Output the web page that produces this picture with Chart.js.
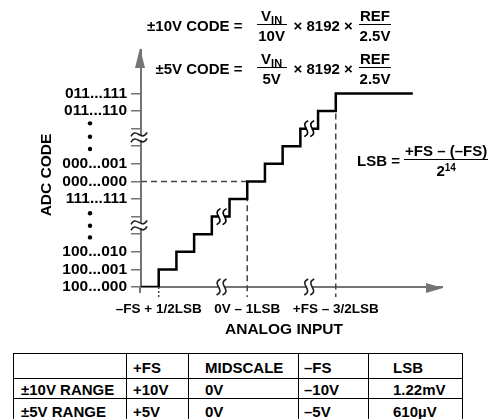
<!DOCTYPE html>
<html>
<head>
<meta charset="utf-8">
<script src="https://cdn.jsdelivr.net/npm/chart.js@4.4.0/dist/chart.umd.min.js"></script>
<style>
  body { margin: 0; width: 495px; height: 419px; overflow: hidden; position: relative; background: #fff;
         font-family: "Liberation Sans", Arial, Helvetica, sans-serif; font-weight: bold; color: #000; }
  #myChart { position: absolute; left: 0; top: 0; }
  .formula { position: absolute; display: flex; align-items: center; font-size: 15px; white-space: pre; line-height: 1; }
  .frac { display: inline-flex; flex-direction: column; align-items: center; min-width: 30px; }
  .frac .num { border-bottom: 1.5px solid #000; padding: 0 1px 1px; align-self: stretch; text-align: center; }
  .frac .den { padding-top: 3px; }
  .frac sub { font-size: 11px; line-height: 0; vertical-align: -3px; }
  sup { font-size: 10px; line-height: 0; vertical-align: 5px; }
  #tabla { position: absolute; left: 13px; top: 353px; border-collapse: collapse; table-layout: fixed; font-size: 15px; }
  #tabla td { border: 1.5px solid #000; padding: 2px 0 0 6px; white-space: nowrap; overflow: hidden; line-height: 1; box-sizing: border-box; }
</style>
</head>
<body>
<canvas id="myChart" width="495" height="345"></canvas>

<div class="formula" style="right:104px; top:8px;">±10V CODE = <span class="frac" style="margin:0 7px 0 10px"><span class="num">V<sub>IN</sub></span><span class="den">10V</span></span>× 8192 × <span class="frac" style="margin-left:2px"><span class="num">REF</span><span class="den">2.5V</span></span></div>
<div class="formula" style="right:104px; top:51px;">±5V CODE = <span class="frac" style="margin:0 7px 0 10px"><span class="num">V<sub>IN</sub></span><span class="den">5V</span></span>× 8192 × <span class="frac" style="margin-left:2px"><span class="num">REF</span><span class="den">2.5V</span></span></div>
<div class="formula" style="left:357px; top:143px;">LSB = <span class="frac"><span class="num">+FS – (–FS)</span><span class="den">2<sup>14</sup></span></span></div>

<table id="tabla">
  <colgroup><col style="width:113px"><col style="width:62px"><col style="width:110px"><col style="width:70px"><col style="width:94px"></colgroup>
</table>

<script>
const chart = document.querySelector("#myChart");
const tabla = document.querySelector("#tabla");

// codigos ADC (eje y) en pasos de 1 LSB
const codeLevels = [0, 1, 2, 3, 4, 5, 6, 7, 8, 9, 10, 11];
const codeLabels = ["100...000", "100...001", "100...010", "", "", "111...111",
                    "000...000", "000...001", "", "", "011...110", "011...111"];

// escalera: entrada analogica (en LSB desde -FS) vs codigo
const stepInputs = [0, 1, 2, 3, 4, 5, 6, 7, 8, 9, 10, 11, 15.35];
const stepCodes = [0, 1, 2, 3, 4, 5, 6, 7, 8, 9, 10, 11, 11];

// ticks del eje x
const inputTicks = [1, 6, 11];
const inputLabels = ["–FS + 1/2LSB", "0V – 1LSB", "+FS – 3/2LSB"];

// cortes de eje y puntos suspensivos
const codeBreaks = [3.5, 8.5];
const inputBreaks = [4.55, 9.5];
const stepBreaks = [4, 9];
const dotLevels = [9.3, 8.54, 7.84, 4.19, 3.48, 2.82];

// tabla
const tableHead = ["", "+FS", "MIDSCALE", "–FS", "LSB"];
const rangeNames = ["±10V RANGE", "±5V RANGE"];
const plusFS = ["+10V", "+5V"];
const midscale = ["0V", "0V"];
const minusFS = ["–10V", "–5V"];
const lsbSize = ["1.22mV", "610µV"];

const GRAY = "#747474";
const FONT = '"Liberation Sans", Arial, Helvetica, sans-serif';
const padLeft = [7, 6, 16, 5, 24];
const rowHeights = [25, 20, 24];
const padTop = [3, 1, 1];

const crearFila = (celdas, fila) => {
  const tr = document.createElement("tr");
  celdas.forEach((texto, i) => {
    const td = document.createElement("td");
    td.textContent = texto;
    td.style.paddingLeft = padLeft[i] + "px";
    td.style.paddingTop = padTop[fila] + "px";
    td.style.height = rowHeights[fila] + "px";
    tr.appendChild(td);
  });
  tabla.appendChild(tr);
};
crearFila(tableHead, 0);
rangeNames.forEach((r, i) => crearFila([r, plusFS[i], midscale[i], minusFS[i], lsbSize[i]], i + 1));

// dos trazos ondulados sobre una linea, borrando la linea entre ellos
const squiggle = (ctx, cx, cy, vertical, color) => {
  ctx.save();
  ctx.fillStyle = "#fff";
  if (vertical) ctx.fillRect(cx - 2.5, cy - 3, 5, 6);
  else ctx.fillRect(cx - 3, cy - 2.5, 6, 5);
  ctx.strokeStyle = color;
  ctx.lineWidth = 1.6;
  [-3, 3].forEach((d) => {
    ctx.beginPath();
    if (vertical) {
      const x = cx + d;
      ctx.moveTo(x + 2, cy - 8);
      ctx.bezierCurveTo(x - 8, cy - 3, x + 8, cy + 3, x - 2, cy + 8);
    } else {
      const y = cy + d;
      ctx.moveTo(cx - 8, y + 2);
      ctx.bezierCurveTo(cx - 3, y - 8, cx + 3, y + 8, cx + 8, y - 2);
    }
    ctx.stroke();
  });
  ctx.restore();
};

const extras = {
  id: "extras",
  afterDatasetsDraw(c) {
    const { ctx, scales: { x, y } } = c;
    const x0 = x.getPixelForValue(0);
    const y0 = y.getPixelForValue(0);
    const xEnd = x.getPixelForValue(x.max);
    const yEnd = y.getPixelForValue(y.max);
    ctx.save();
    // eje y un poco bajo el origen
    ctx.strokeStyle = GRAY;
    ctx.lineWidth = 2;
    ctx.beginPath();
    ctx.moveTo(x0 - 1, y0);
    ctx.lineTo(x0 - 1, y0 + 6);
    ctx.stroke();
    // flechas
    ctx.fillStyle = GRAY;
    ctx.beginPath();
    ctx.moveTo(x0 - 1, yEnd - 2);
    ctx.lineTo(x0 - 6, yEnd + 18);
    ctx.lineTo(x0 + 4, yEnd + 18);
    ctx.closePath();
    ctx.fill();
    ctx.beginPath();
    ctx.moveTo(xEnd + 1, y0 + 1);
    ctx.lineTo(xEnd - 16, y0 - 4);
    ctx.lineTo(xEnd - 16, y0 + 6);
    ctx.closePath();
    ctx.fill();
    // cortes
    codeBreaks.forEach((v) => squiggle(ctx, x0 - 2, y.getPixelForValue(v), false, "#222"));
    inputBreaks.forEach((v) => squiggle(ctx, x.getPixelForValue(v), y0, true, "#222"));
    inputBreaks.forEach((v, i) => squiggle(ctx, x.getPixelForValue(v), y.getPixelForValue(stepBreaks[i]), true, "#000"));
    // puntos
    ctx.fillStyle = "#000";
    dotLevels.forEach((v) => {
      ctx.beginPath();
      ctx.arc(90, y.getPixelForValue(v), 2.2, 0, Math.PI * 2);
      ctx.fill();
    });
    // titulos de ejes
    ctx.font = "bold 15.5px " + FONT;
    ctx.textAlign = "center";
    ctx.textBaseline = "middle";
    ctx.fillText("ANALOG INPUT", 284, 330);
    ctx.translate(47, 175);
    ctx.rotate(-Math.PI / 2);
    ctx.fillText("ADC CODE", 0, 0);
    ctx.restore();
  },
};

const datasets = [
  {
    data: stepInputs.map((v, i) => ({ x: v, y: stepCodes[i] })),
    borderColor: "#000",
    borderWidth: 2.5,
    stepped: true,
    pointRadius: 0,
  },
  {
    data: [{ x: 0, y: stepCodes[6] }, { x: stepInputs[6], y: stepCodes[6] }, { x: stepInputs[6], y: -0.57 }],
    borderColor: "#444",
    borderWidth: 1.5,
    borderDash: [6, 4],
    pointRadius: 0,
    clip: false,
  },
  {
    data: [{ x: stepInputs[11], y: stepCodes[11] }, { x: stepInputs[11], y: -0.57 }],
    borderColor: "#444",
    borderWidth: 1.5,
    borderDash: [6, 4],
    pointRadius: 0,
    clip: false,
  },
  {
    data: [{ x: stepInputs[1], y: 0 }, { x: stepInputs[1], y: -0.57 }],
    borderColor: "#444",
    borderWidth: 1.5,
    borderDash: [2, 2],
    pointRadius: 0,
    clip: false,
  },
];

const config = {
  type: "line",
  data: { datasets },
  options: {
    responsive: false,
    animation: false,
    devicePixelRatio: 1,
    events: [],
    layout: { padding: { top: 50, right: 53, left: 30, bottom: 0 } },
    plugins: { legend: { display: false }, tooltip: { enabled: false } },
    scales: {
      x: {
        type: "linear",
        min: 0,
        max: 17,
        afterFit: (s) => { s.height = 58; },
        afterBuildTicks: (s) => { s.ticks = inputTicks.map((v) => ({ value: v })); },
        grid: { display: true, drawOnChartArea: false, color: "rgba(0,0,0,0)", tickLength: 10 },
        border: { display: true, color: GRAY, width: 2 },
        ticks: {
          autoSkip: false,
          maxRotation: 0,
          padding: 4,
          color: "#000",
          font: { family: FONT, size: 13.5, weight: "bold" },
          callback: (v) => inputLabels[inputTicks.indexOf(v)],
        },
      },
      y: {
        type: "linear",
        min: 0,
        max: 13.47,
        afterFit: (s) => { s.width = 111; },
        afterBuildTicks: (s) => { s.ticks = codeLevels.map((v) => ({ value: v })); },
        grid: { display: true, drawOnChartArea: false, color: GRAY, lineWidth: 1.5, tickLength: 10 },
        border: { display: true, color: GRAY, width: 2 },
        ticks: {
          autoSkip: false,
          padding: 4,
          color: "#000",
          font: { family: FONT, size: 15.5, weight: "bold" },
          callback: (v) => codeLabels[codeLevels.indexOf(v)],
        },
      },
    },
  },
  plugins: [extras],
};

let myChart = new Chart(chart, config);
</script>
</body>
</html>
